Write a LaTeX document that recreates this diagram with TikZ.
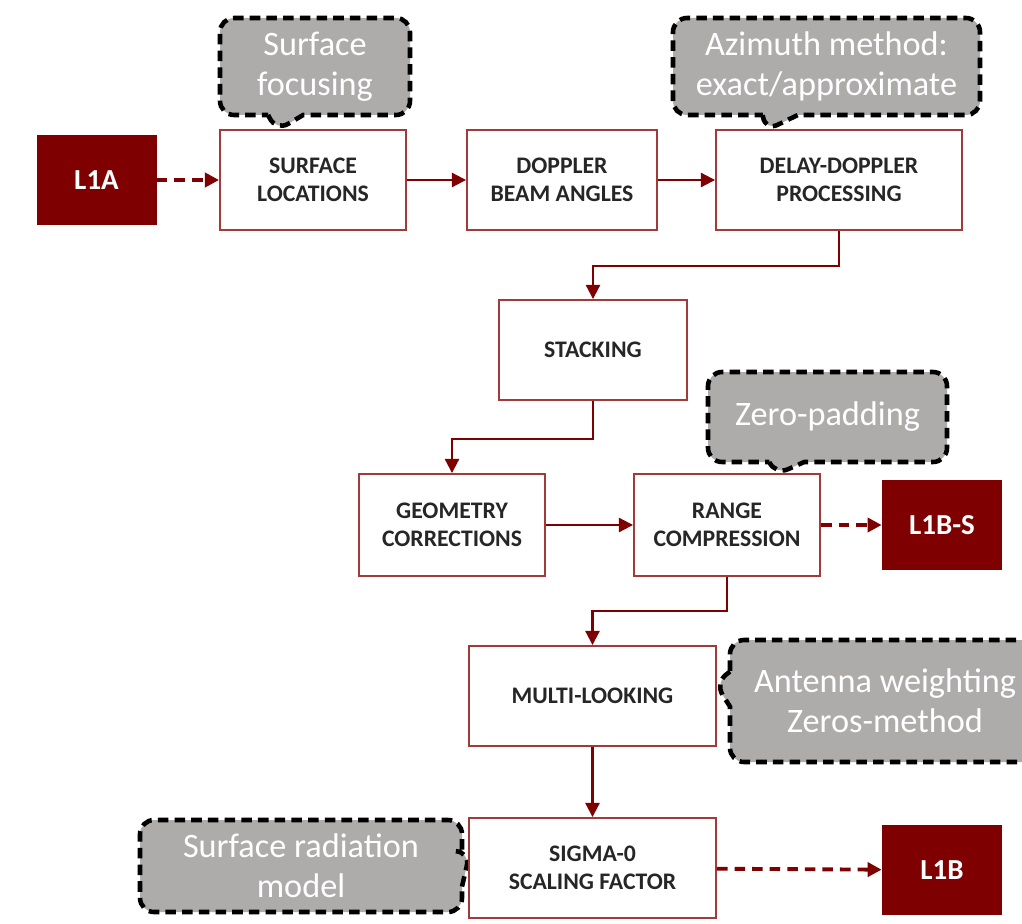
\documentclass[tikz,border=0pt]{standalone}
\usepackage{fontspec}
\setmainfont{Carlito}
\usepackage{xcolor}
\usetikzlibrary{shapes.callouts,arrows.meta}
\definecolor{darkred}{HTML}{7F0000}
\definecolor{boxred}{HTML}{A33A3A}
\definecolor{notegray}{HTML}{AEABAB}

\begin{document}
\begin{tikzpicture}[
  block/.style={draw=boxred, line width=1.1pt, fill=white, minimum width=3.72cm, minimum height=2cm,
    align=center, font=\bfseries\fontsize{13.5}{16}\selectfont, text=black!85},
  level/.style={fill=darkred, text=white, minimum width=2.4cm, minimum height=1.8cm,
    font=\bfseries\fontsize{16.5}{18}\selectfont},
  note/.style={rectangle callout, draw=black, fill=notegray, text=white, line width=2.6pt,
    dash pattern=on 6pt off 3.5pt, rounded corners=8pt, align=center, inner sep=0pt,
    font=\fontsize{19.5}{23}\selectfont, callout pointer width=0.7cm},
  flow/.style={draw=darkred, line width=1.2pt, -{Triangle[length=8pt,width=8pt]}},
  output/.style={flow, line width=2.2pt, dash pattern=on 6pt off 4pt}
]
\useasboundingbox (0,0) rectangle (20.44,-18.48);

    % comments beside the processing steps
    \node[note, minimum width=3.8cm, minimum height=1.94cm, callout absolute pointer={(5.52,-2.62)}] (focus) at (6.3,-1.33) {Surface\\focusing};
    \node[note, minimum width=6.14cm, minimum height=1.94cm, callout absolute pointer={(15.3,-2.62)}] (azimuth) at (16.53,-1.33) {Azimuth method:\\exact/approximate};
    \node[note, minimum width=4.78cm, minimum height=1.8cm, callout absolute pointer={(15.5,-9.5)}] (padding) at (16.55,-8.34) {Zero-padding};
    \node[note, minimum width=6.2cm, minimum height=2.44cm, callout absolute pointer={(14.3,-13.66)}] (weighting) at (17.7,-14.02) {Antenna weighting\\Zeros-method};
    \node[note, minimum width=6.44cm, minimum height=1.84cm, callout absolute pointer={(9.4,-17.04)}] (radiation) at (6.02,-17.32) {Surface radiation\\model};

    \node[level] (l1a) at (1.93,-3.6) {L1A};
    \node[level] (l1bs) at (18.84,-10.5) {L1B-S};
    \node[level] (l1b) at (18.84,-17.4) {L1B};

    \node[block] (surface) at (6.26,-3.6) {SURFACE\\LOCATIONS};
    \node[block, minimum width=3.8cm] (doppler) at (11.24,-3.6) {DOPPLER\\BEAM ANGLES};
    \node[block, minimum width=4.92cm] (delay) at (16.78,-3.6) {DELAY-DOPPLER\\PROCESSING};
    \node[block, minimum width=3.76cm] (stacking) at (11.86,-7.0) {STACKING};
    \node[block, minimum height=2.04cm] (geometry) at (9.04,-10.5) {GEOMETRY\\CORRECTIONS};
    \node[block, minimum height=2.04cm] (range) at (14.54,-10.5) {RANGE\\COMPRESSION};
    \node[block, minimum width=4.94cm] (multi) at (11.85,-13.92) {MULTI-LOOKING};
    \node[block, minimum width=4.94cm] (sigma) at (11.85,-17.36) {SIGMA-0\\SCALING FACTOR};

    % draw the arrows
    \draw[output] (l1a) -- (surface);
    \draw[flow] (surface) -- (doppler);
    \draw[flow] (doppler) -- (delay);
    \draw[flow] (delay.south) -- ++(0,-0.7) -| (stacking.north);
    \draw[flow] (stacking.south) -- ++(0,-0.76) -| (geometry.north);
    \draw[flow] (geometry) -- (range);
    \draw[output] (range) -- (l1bs);
    \draw[flow] (range.south) -- ++(0,-0.68) -| (multi.north);
    \draw[flow] (multi) -- (sigma);
    \draw[output] (sigma) -- (l1b);

\end{tikzpicture}
\end{document}
